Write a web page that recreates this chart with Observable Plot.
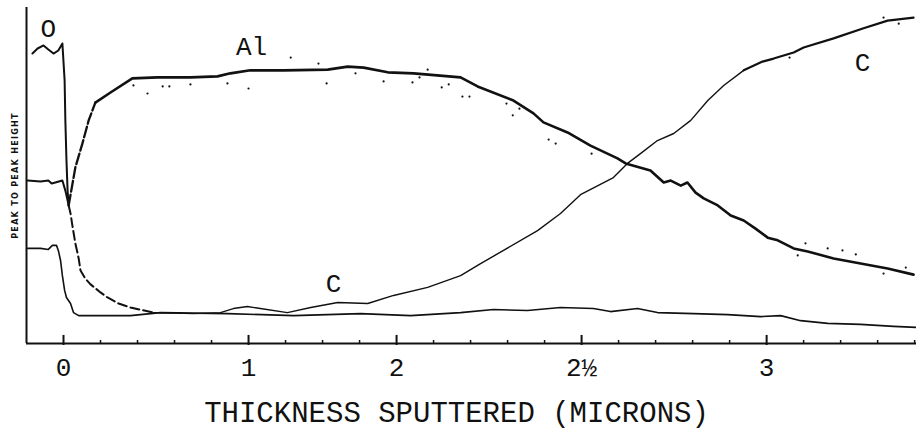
<!DOCTYPE html>
<html>
<head>
<meta charset="utf-8">
<script src="https://cdn.jsdelivr.net/npm/d3@7"></script>
<script src="https://cdn.jsdelivr.net/npm/@observablehq/plot@0.6"></script>
<style>
  html, body { margin: 0; padding: 0; background: #fff; }
  #chart svg { display: block; }
</style>
</head>
<body>
<div id="chart"></div>
<script>
// x: sputter time in chart divisions (0 = start of sputtering); y: peak-to-peak height (arb. units 0-100)
const oT  = [-0.84, -0.70, -0.54, -0.41, -0.27, -0.14, -0.03, 0.03, 0.05, 0.08, 0.11, 0.14];
const oV  = [86.3, 87.8, 88.7, 87.5, 86.3, 87.2, 89.3, 78.3, 66.4, 54.5, 45.5, 41.1];

const alT = [-0.97, -0.62, -0.41, -0.32, -0.22, -0.03, 0.05, 0.14, 0.32, 0.51, 0.68, 0.86, 1.27, 1.86, 2.54, 3.43, 4.16, 4.51, 5.05, 5.95, 7.14, 7.68, 8.11, 8.76, 9.46, 10.73, 11.19, 12.16, 12.70, 12.97, 13.62, 14.24, 14.97, 15.19, 15.86, 16.22, 16.41, 16.68, 16.86, 17.08, 17.30, 17.68, 18.03, 18.38, 18.70, 19.03, 19.30, 19.73, 20.11, 20.81, 21.54, 22.27, 22.97];
const alV = [48.5, 48.2, 48.5, 47.6, 47.9, 48.5, 45.5, 41.1, 52.4, 59.5, 66.4, 71.7, 74.7, 78.9, 79.2, 79.2, 79.5, 80.4, 81.3, 81.3, 81.5, 82.4, 82.1, 80.7, 80.4, 79.2, 76.5, 72.3, 68.5, 65.8, 62.8, 58.9, 55.1, 53.6, 51.5, 47.9, 48.5, 47.0, 47.9, 44.9, 43.2, 41.1, 38.1, 36.6, 34.2, 31.5, 30.7, 28.3, 27.4, 25.3, 23.8, 22.3, 20.5];

const cT  = [0.14, 0.19, 0.24, 0.32, 0.41, 0.46, 0.59, 0.73, 1.00, 1.19, 1.49, 1.81, 2.43, 3.51, 4.24, 4.59, 4.97, 5.32, 6.05, 6.68, 7.41, 8.22, 8.92, 9.84, 10.73, 11.27, 11.89, 12.81, 13.43, 13.97, 14.86, 15.24, 15.59, 16.05, 16.49, 16.95, 17.41, 17.84, 18.38, 18.89, 19.19, 19.73, 20.00, 20.81, 21.62, 22.27, 22.97];
const cV  = [41.1, 38.7, 35.1, 29.8, 25.3, 21.7, 19.3, 17.6, 15.2, 13.7, 11.9, 10.7, 9.2, 8.9, 9.2, 10.4, 11.0, 10.4, 9.2, 10.7, 12.2, 11.9, 14.3, 16.7, 20.2, 23.8, 27.7, 33.6, 38.7, 44.3, 49.4, 53.6, 56.5, 60.4, 62.5, 66.4, 72.3, 76.8, 81.3, 83.9, 84.8, 86.6, 88.1, 90.8, 93.8, 96.1, 97.0];

const lowT = [-0.97, -0.62, -0.41, -0.30, -0.19, -0.14, -0.08, -0.03, 0.03, 0.08, 0.19, 0.27, 0.41, 0.81, 1.81, 2.62, 4.43, 6.22, 8.03, 9.38, 10.73, 11.62, 12.54, 13.43, 14.32, 14.78, 15.51, 16.05, 17.03, 17.95, 18.84, 19.38, 19.92, 20.65, 21.54, 22.43, 23.05];
const lowV = [28.3, 28.3, 28.0, 29.2, 29.2, 27.7, 24.7, 20.2, 15.8, 13.7, 11.9, 9.2, 8.3, 8.3, 8.3, 9.2, 8.9, 8.3, 8.9, 8.3, 9.2, 10.1, 9.8, 10.7, 10.4, 9.5, 10.4, 9.2, 8.9, 8.6, 8.0, 8.3, 6.8, 6.0, 5.7, 5.1, 4.8];

const dotT = [1.89, 2.27, 2.68, 2.86, 3.43, 4.43, 5.00, 6.14, 6.89, 7.11, 7.89, 8.65, 9.43, 9.62, 9.84, 10.22, 10.41, 10.78, 10.97, 11.97, 12.14, 12.32, 13.11, 13.30, 14.27, 19.62, 22.16, 22.57, 19.84, 20.05, 20.65, 21.05, 21.41, 22.16, 22.76];
const dotV = [76.8, 74.4, 76.5, 76.5, 77.1, 77.4, 75.9, 85.1, 83.3, 77.4, 80.4, 78.0, 77.7, 79.2, 81.5, 76.2, 77.1, 73.5, 73.5, 71.4, 67.9, 69.9, 60.7, 59.5, 56.5, 85.1, 97.0, 95.2, 26.2, 29.8, 28.3, 27.7, 26.5, 20.8, 22.6];

const tickPos    = [0, 5, 9, 14, 19];
const tickLabels = ["0", "1", "2", "2½", "3"];
const minorPos   = [1, 2, 3, 4, 6, 7, 8, 10, 11, 12, 13, 15, 16, 17, 18, 20, 21, 22, 23];

const labelText = ["O", "Al", "C", "C"];
const labelT    = [-0.41, 5.08, 7.30, 21.59];
const labelV    = [93.8, 88.4, 17.9, 83.6];

const xTitle = "THICKNESS SPUTTERED (MICRONS)";
const yTitle = "PEAK TO PEAK HEIGHT";

const rows = (ts, vs) => ts.map((t, i) => ({t, v: vs[i]}));
const O = rows(oT, oV), AL = rows(alT, alV), C = rows(cT, cV), LOW = rows(lowT, lowV), DOTS = rows(dotT, dotV);
const LABELS = labelText.map((s, i) => ({s, t: labelT[i], v: labelV[i]}));
const TICKS = tickPos.map((t, i) => ({t, s: tickLabels[i]}));

const ink = "#111";
const mono = "Liberation Mono, Courier New, monospace";

const chart = Plot.plot({
  width: 916,
  height: 437,
  marginLeft: 26,
  marginRight: 0,
  marginTop: 7,
  marginBottom: 94,
  x: {domain: [-1, 23.05], axis: null},
  y: {domain: [0, 100], axis: null},
  style: {background: "#fff", color: ink},
  marks: [
    // axes frame
    Plot.ruleY([0], {stroke: ink, strokeWidth: 2}),
    Plot.ruleX([-1], {y1: 0, y2: 100, stroke: ink, strokeWidth: 2}),
    Plot.ruleX(tickPos, {y1: -0.6, y2: 2.4, stroke: ink, strokeWidth: 2}),
    Plot.ruleX(minorPos, {y1: 0, y2: 0.9, stroke: ink, strokeWidth: 1.5}),
    // lower trace
    Plot.line(LOW, {x: "t", y: "v", stroke: ink, strokeWidth: 1.6}),
    // O trace
    Plot.line(O, {x: "t", y: "v", stroke: ink, strokeWidth: 2}),
    // Al trace: solid, dashed rising part, solid
    Plot.line(AL.filter(d => d.t <= 0.14), {x: "t", y: "v", stroke: ink, strokeWidth: 2}),
    Plot.line(AL.filter(d => d.t >= 0.14 && d.t <= 0.86), {x: "t", y: "v", stroke: ink, strokeWidth: 2.3, strokeDasharray: "11,3"}),
    Plot.line(AL.filter(d => d.t >= 0.86), {x: "t", y: "v", stroke: ink, strokeWidth: 2.6}),
    // C trace: dashed falling part then solid rising part
    Plot.line(C.filter(d => d.t <= 2.43), {x: "t", y: "v", stroke: ink, strokeWidth: 2, strokeDasharray: "9,4"}),
    Plot.line(C.filter(d => d.t >= 2.43 && d.t <= 18.38), {x: "t", y: "v", stroke: ink, strokeWidth: 1.4}),
    Plot.line(C.filter(d => d.t >= 18.38), {x: "t", y: "v", stroke: ink, strokeWidth: 2.2}),
    // scattered dots
    Plot.dot(DOTS, {x: "t", y: "v", r: 1.1, fill: ink, stroke: null}),
    // curve labels
    Plot.text(LABELS, {x: "t", y: "v", text: "s", fontSize: 26, fontFamily: mono, fill: ink}),
    // tick labels
    Plot.text(TICKS, {x: "t", frameAnchor: "bottom", dy: 32, text: "s", fontSize: 26, fontFamily: mono, fill: ink}),
    // axis titles
    Plot.text([xTitle], {frameAnchor: "bottom", dy: 78, dx: -15, fontSize: 29, fontFamily: mono, fill: ink}),
    Plot.text([yTitle], {frameAnchor: "left", dx: -11, rotate: -90, textAnchor: "middle", fontSize: 8, fontWeight: "bold", fontFamily: "DejaVu Sans, sans-serif", fill: ink})
  ]
});
document.getElementById("chart").appendChild(chart);
d3.select(chart).selectAll("text").filter(function() { return this.textContent === yTitle; }).style("letter-spacing", "1.3px");
</script>
</body>
</html>
